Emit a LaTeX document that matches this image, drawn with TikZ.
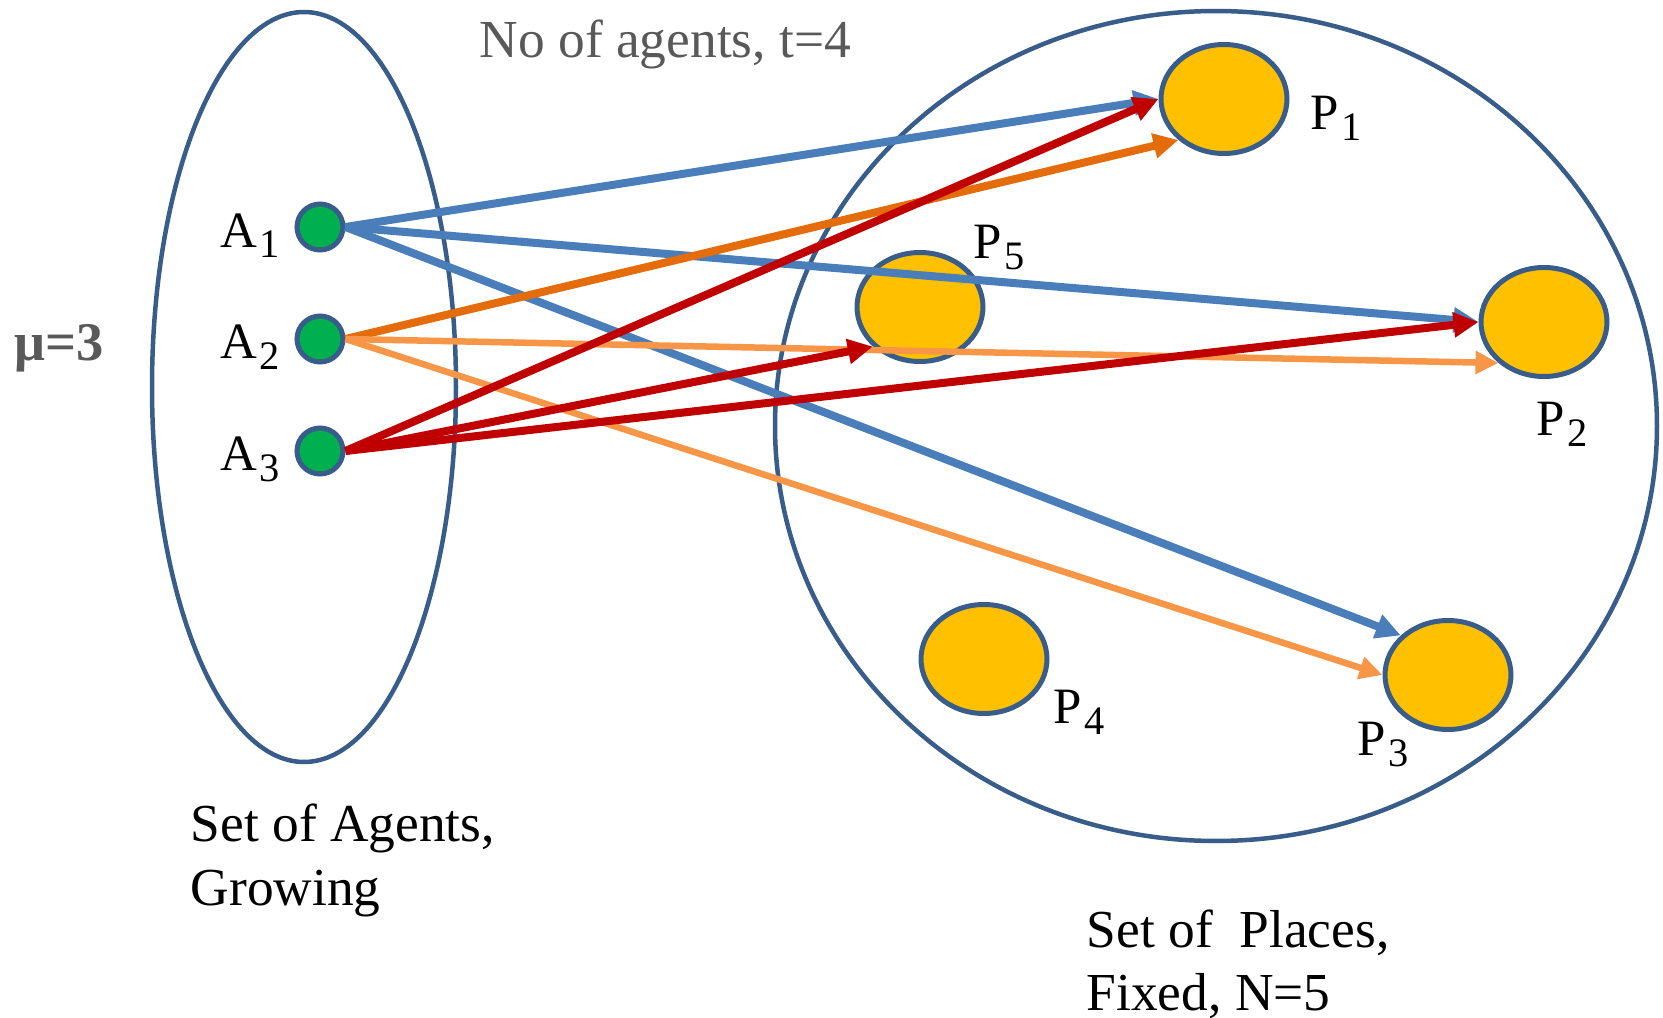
\documentclass[tikz,border=0pt]{standalone}
\usepackage{fontspec}
\setmainfont{Liberation Serif}
\usetikzlibrary{shapes.geometric,arrows.meta}

\definecolor{setline}{HTML}{385D8A}
\definecolor{agentfill}{HTML}{00B050}
\definecolor{placefill}{HTML}{FFC000}
\definecolor{arrblue}{HTML}{4A7EBB}
\definecolor{arrdorange}{HTML}{E46C0A}
\definecolor{arrlorange}{HTML}{F79646}
\definecolor{arrred}{HTML}{C00000}
\definecolor{notegray}{HTML}{595959}

% label with a lowered index, e.g. A_1, P_3
\newcommand{\idxlabel}[2]{#1\kern0.6pt\raisebox{-1.1mm}{\fontsize{11.5}{11.5}\selectfont #2}}

\begin{document}
\begin{tikzpicture}[x=0.1mm,y=-0.1mm,
  setborder/.style={draw=setline,line width=0.45mm},
  agent/.style={circle,draw=setline,line width=0.5mm,fill=agentfill,
    minimum size=4.6mm,inner sep=0pt},
  place/.style={ellipse,draw=setline,line width=0.5mm,fill=placefill,
    minimum width=12.6mm,minimum height=10.9mm,inner sep=0pt},
  lbl/.style={anchor=base west,inner sep=0pt,font=\fontsize{14.5}{17}\selectfont},
  caption/.style={anchor=base west,inner sep=0pt,font=\fontsize{15.2}{18}\selectfont},
  link/.style={line width=0.8mm,-{Triangle[length=2.5mm,width=2.4mm]}},
  thinlink/.style={line width=0.65mm,-{Triangle[length=2.3mm,width=2.2mm]}},
]
\useasboundingbox[fill=white] (0,0) rectangle (1663,1018);

% the two sets
\draw[setborder] (304,387) ellipse [x radius=15.2mm, y radius=37.5mm];
\draw[setborder] (1216,426) ellipse [x radius=44.1mm, y radius=41.5mm];

% places
\node[place] (p1) at (1224,99) {};
\node[place] (p5) at (920,307) {};
\node[place] (p2) at (1544,322) {};
\node[place] (p4) at (984,659) {};
\node[place] (p3) at (1448,675) {};

% agents
\node[agent] (a1) at (320,227) {};
\node[agent] (a2) at (320,339) {};
\node[agent] (a3) at (320,451) {};

% labels
\node[lbl] (la1) at (220,247) {\idxlabel{A}{1}};
\node[lbl] (la2) at (220,358) {\idxlabel{A}{2}};
\node[lbl] (la3) at (220,470) {\idxlabel{A}{3}};
\node[lbl] (lp1) at (1310,130) {\idxlabel{P}{1}};
\node[lbl] (lp5) at (973,258) {\idxlabel{P}{5}};
\node[lbl] (lp2) at (1536,435) {\idxlabel{P}{2}};
\node[lbl] (lp4) at (1053,723) {\idxlabel{P}{4}};
\node[lbl] (lp3) at (1357,755) {\idxlabel{P}{3}};

% captions
\node[caption,text=notegray] (count) at (479,57) {No of agents, t=4};
\node[caption,text=notegray,font=\fontsize{15.5}{18}\selectfont\bfseries] (mu) at (14,360) {μ=3};
\node[caption] (agt1) at (190,841) {Set of Agents,};
\node[caption] (agt2) at (190,905) {Growing};
\node[caption] (plc1) at (1086,947) {Set of~ Places,};
\node[caption] (plc2) at (1086,1010) {Fixed, N=5};

% choices of agent 1
\draw[link,arrblue] (a1.east) -- (p1.west);
\draw[link,arrblue] (a1.east) -- (p2.west);
\draw[link,arrblue] (a1.east) -- (p3.140);
% choices of agent 2
\draw[link,arrdorange] (a2.east) -- (p1.222);
\draw[thinlink,arrlorange] (a2.east) -- (p2.222);
\draw[thinlink,arrlorange] (a2.east) -- (p3.west);
% choices of agent 3
\draw[link,arrred] (a3.east) -- (p1.west);
\draw[link,arrred] (a3.east) -- (p5.220);
\draw[link,arrred] (a3.east) -- (p2.west);
\end{tikzpicture}
\end{document}
